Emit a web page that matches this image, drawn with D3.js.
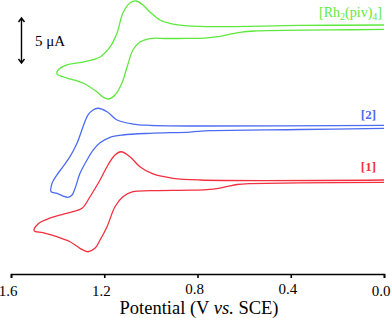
<html>
<head>
<script src="https://d3js.org/d3.v7.min.js"></script>
<style>
  body { margin: 0; background: #fff; }
  text { font-family: "Liberation Serif", "Times New Roman", serif; }
</style>
</head>
<body>
<svg id="cv" width="392" height="318"></svg>
<script>
// potential axis ticks (V vs. SCE)
var potentialTicks = [1.6, 1.2, 0.8, 0.4, 0.0];

// [Rh2(piv)4] : forward scan (lower branch) then reverse (upper branch)
var rhV = [0, 0.232, 0.50, 0.55, 0.61, 0.66, 0.71, 0.77, 0.85, 0.931, 1.004, 1.047, 1.077, 1.102, 1.124, 1.154, 1.180, 1.205, 1.231, 1.291, 1.360, 1.403,
           1.398, 1.360, 1.291, 1.218, 1.175, 1.145, 1.120, 1.090, 1.064, 1.034, 1.004, 0.961, 0.905, 0.789, 0.360, 0];
var rhI = [-0.26, -0.33, -0.40, -0.44, -0.56, -0.80, -1.07, -1.23, -1.27, -1.28, -1.28, -1.67, -2.56, -4.44, -6.22, -7.56, -8.0, -7.78, -7.22, -6.22, -5.67, -5.22,
           -4.78, -4.22, -3.89, -3.33, -2.22, -0.67, 1.56, 2.67, 2.89, 2.44, 1.67, 0.78, 0.33, 0.06, 0.17, 0.22];

// [2]
var c2V = [0, 0.360, 0.746, 0.832, 1.004, 1.120, 1.175, 1.218, 1.248, 1.274, 1.304, 1.325, 1.338, 1.356, 1.377, 1.403, 1.428,
           1.424, 1.403, 1.377, 1.347, 1.317, 1.291, 1.270, 1.248, 1.227, 1.188, 1.145, 1.077, 1.004, 0.789, 0];
var c2I = [-0.06, -0.19, -0.32, -0.47, -0.61, -0.80, -1.06, -1.66, -2.47, -3.58, -5.06, -6.72, -7.47, -7.72, -7.58, -7.28, -7.1,
           -6.17, -5.24, -4.32, -3.21, -1.72, 0.12, 1.42, 1.98, 2.17, 1.79, 0.87, 0.42, 0.28, 0.20, 0.28];

// [1]
var c1V = [0, 0.360, 0.58, 0.63, 0.67, 0.71, 0.76, 0.83, 1.004, 1.077, 1.120, 1.154, 1.188, 1.218, 1.240, 1.270, 1.304, 1.347, 1.403, 1.463, 1.501,
           1.484, 1.446, 1.390, 1.334, 1.295, 1.261, 1.218, 1.184, 1.154, 1.128, 1.090, 1.047, 0.991, 0.905, 0.789, 0];
var c1I = [-0.06, -0.13, -0.20, -0.30, -0.50, -0.72, -0.86, -0.93, -0.99, -1.10, -1.66, -2.77, -4.99, -6.47, -7.39, -7.77, -7.39, -6.66, -6.10, -5.66, -5.43,
           -4.69, -4.17, -3.69, -3.32, -2.94, -1.66, 0.20, 1.87, 2.98, 3.34, 2.79, 1.68, 0.87, 0.39, 0.20, 0.20];

var seriesColors = ["#5ee83e", "#4b6cf0", "#f2303f"];
var seriesOffsets = [27, 15.8, 9.8];   // vertical stacking, in uA

var svg = d3.select("#cv");

var x = d3.scaleLinear().domain([1.6, 0]).range([11, 384]);
var y = d3.scaleLinear().domain([0, 30]).range([270, 0]);

var curves = [
  {v: rhV, i: rhI},
  {v: c2V, i: c2I},
  {v: c1V, i: c1I}
];

var line = d3.line()
  .x(function (d) { return x(d[0]); })
  .y(function (d) { return y(d[1]); })
  .curve(d3.curveCatmullRom.alpha(0.5));

curves.forEach(function (c, k) {
  var pts = c.v.map(function (v, j) { return [v, c.i[j] + seriesOffsets[k]]; });
  svg.append("path")
    .attr("d", line(pts))
    .attr("fill", "none")
    .attr("stroke", seriesColors[k])
    .attr("stroke-width", 1.3);
});

// x axis
var axis = svg.append("g")
  .attr("transform", "translate(0,274)")
  .call(d3.axisBottom(x).tickValues(potentialTicks).tickFormat(d3.format(".1f")).tickSize(4).tickSizeOuter(4));
axis.select(".domain").attr("stroke-width", 1.6);
axis.selectAll(".tick line").attr("stroke-width", 1.6);
// the labels sitting over the title are a little higher, as in the original
axis.selectAll(".tick text")
  .attr("y", function (d) { return (d == 0.8 || d == 0.4) ? 19.5 : 22; })
  .attr("dy", null).attr("dx", -3.5)
  .attr("font-family", "Liberation Serif").attr("font-size", 15).attr("fill", "#000");

var title = svg.append("text")
  .attr("x", 199).attr("y", 313.5)
  .attr("text-anchor", "middle")
  .attr("font-size", 18.5);
title.append("tspan").text("Potential (V ");
title.append("tspan").attr("font-style", "italic").text("vs.");
title.append("tspan").text(" SCE)");

// 5 uA scale bar
var barX = 21.5, barTop = y(28), barBot = y(23);
svg.append("path")
  .attr("d", "M" + barX + "," + barTop + "V" + barBot +
             "M" + (barX - 3) + "," + (barTop + 4) + "L" + barX + "," + barTop + "L" + (barX + 3) + "," + (barTop + 4) +
             "M" + (barX - 3) + "," + (barBot - 4) + "L" + barX + "," + barBot + "L" + (barX + 3) + "," + (barBot - 4))
  .attr("fill", "none").attr("stroke", "#000").attr("stroke-width", 1.4);
svg.append("text").attr("x", 35).attr("y", 46).attr("font-size", 15).text("5 \u03bcA");

// series labels
var lab = svg.append("text").attr("x", 382).attr("y", 17).attr("text-anchor", "end")
  .attr("font-size", 14).attr("fill", seriesColors[0]);
lab.append("tspan").text("[Rh");
lab.append("tspan").attr("font-size", 10).attr("dy", 3).text("2");
lab.append("tspan").attr("dy", -3).text("(piv)");
lab.append("tspan").attr("font-size", 10).attr("dy", 3).text("4");
lab.append("tspan").attr("dy", -3).text("]");

svg.append("text").attr("x", 376).attr("y", 119).attr("text-anchor", "end")
  .attr("font-size", 13).attr("font-weight", "bold").attr("fill", seriesColors[1]).text("[2]");
svg.append("text").attr("x", 376).attr("y", 171).attr("text-anchor", "end")
  .attr("font-size", 13).attr("font-weight", "bold").attr("fill", seriesColors[2]).text("[1]");
</script>
</body>
</html>
